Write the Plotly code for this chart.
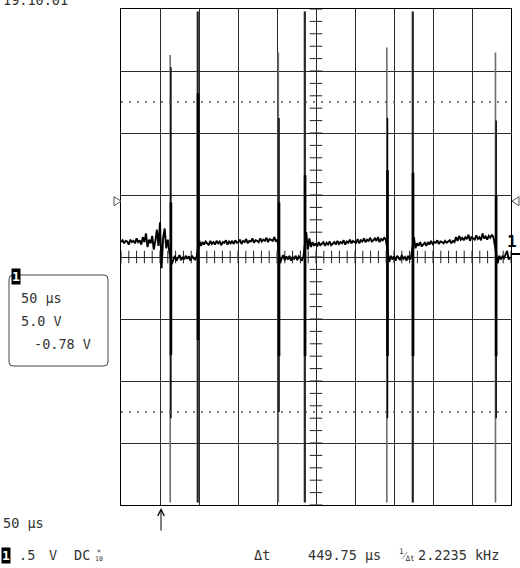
import numpy as np
import plotly.graph_objects as go

# ---------------- data ----------------
STEP_US = 2.0  # sample spacing of the hand-read baseline points (µs)

seg_starts = [0.0, 65.0, 100.5, 204.0, 237.5, 344.0, 375.5, 483.0]
seg1 = [1.2, 1.35, 1.1, 1.3, 1.25, 1.0, 1.4, 1.2, 1.3, 1.1, 1.5, 1.2, 1.35, 1.0, 1.6, 1.2,
        1.9, 0.8, 1.4, 1.1, 1.7, 0.6, 1.3, 2.2, 0.9, 2.8, -0.9, 1.5, 2.3, 0.7, 1.4, 0.4]
seg2 = [-0.6, -0.2, 0.1, -0.3, -0.05, 0.15, -0.25, 0.0, -0.2, 0.1, -0.15, 0.05, -0.3,
        0.1, -0.1, -0.2, 0.05]
seg3 = [1.3, 0.9, 1.2, 1.0, 1.25, 1.1, 0.95, 1.3, 1.05, 1.2, 1.0, 1.3, 1.1, 1.25, 0.95,
        1.2, 1.15, 1.35, 1.0, 1.25, 1.1, 1.3, 1.05, 1.35, 1.15, 1.2, 1.4, 1.05, 1.3, 1.2,
        1.45, 1.1, 1.3, 1.25, 1.5, 1.15, 1.35, 1.3, 1.2, 1.5, 1.25, 1.4, 1.3, 1.55, 1.2,
        1.45, 1.35, 1.3, 1.6, 1.25, 1.4]
seg4 = [-0.5, -0.1, 0.15, -0.25, 0.05, -0.2, 0.1, -0.3, 0.0, -0.15, 0.1, -0.25, 0.05,
        -0.1, -0.3, 0.05]
seg5 = [2.0, 0.6, 1.5, 0.8, 1.2, 0.9, 1.1, 0.85, 1.2, 0.95, 1.05, 1.2, 0.9, 1.15, 1.0,
        1.25, 0.95, 1.1, 1.2, 1.0, 1.3, 1.05, 1.2, 1.1, 1.35, 1.0, 1.25, 1.15, 1.4, 1.1,
        1.3, 1.2, 1.15, 1.45, 1.1, 1.35, 1.25, 1.5, 1.2, 1.4, 1.3, 1.55, 1.25, 1.35, 1.5,
        1.3, 1.6, 1.2, 1.45, 1.35, 1.55, 1.4]
seg6 = [-0.4, 0.1, -0.2, 0.05, -0.3, 0.1, -0.1, -0.25, 0.15, -0.15, 0.0, -0.3, 0.1,
        -0.2, 0.0]
seg7 = [1.6, 0.7, 1.1, 0.9, 1.2, 0.85, 1.05, 1.15, 0.9, 1.2, 1.0, 1.3, 1.05, 1.2, 1.15,
        1.35, 1.05, 1.25, 1.2, 1.1, 1.3, 1.15, 1.25, 1.35, 1.1, 1.3, 1.2, 1.6, 1.3, 1.7,
        1.4, 1.55, 1.35, 1.6, 1.45, 1.8, 1.3, 1.65, 1.5, 1.4, 1.75, 1.45, 1.6, 1.35, 1.9,
        1.5, 1.65, 1.4, 1.7, 1.55, 1.8, 1.6]
seg8 = [-0.5, 0.1, -0.2, 0.05, -0.1, 0.3, 0.5, -0.2, 0.0]
segments = [seg1, seg2, seg3, seg4, seg5, seg6, seg7, seg8]

# switching spikes (µs, volts)
spike_t  = [64.0, 98.7, 202.6, 236.0, 341.7, 374.4, 481.0]
gray_hi  = [16.3, 19.8, 16.5, 19.8, 16.9, 19.8, 16.5]
gray_lo  = [-19.8, -19.8, -19.8, -19.8, -19.8, -19.8, -19.8]
black_hi = [15.3, 19.8, 11.2, 19.8, 11.2, 19.8, 11.0]
black_lo = [-13.0, -19.8, -12.5, -19.8, -13.0, -19.8, -13.0]
thick_hi = [4.4, 13.2, 4.4, 6.6, 7.0, 6.8, 5.0]
thick_lo = [-7.9, -6.7, -8.0, -8.0, -8.0, -8.0, -8.0]

cursor1_us = 51.3
delta_t_us = 449.75
trigger_level_v = 4.5

time_label = "19.10.01"
box_lines = ["50 µs", "5.0 V", "-0.78 V"]
timebase_label = "50 µs"
ch_label = ".5"
dt_value = "449.75 µs"
freq_value = "2.2235 kHz"

# ---------------- figure ----------------
L, R, T, B = 121, 511, 9, 505
W, H = 520, 568


def pxx(x):
    return (x - L) / (R - L)


def pxy(y):
    return (B - y) / (B - T)


t_all, v_all = [], []
for start, vals in zip(seg_starts, segments):
    t_all.extend(start + STEP_US * np.arange(len(vals)))
    v_all.extend(vals)


def spike_xy(lo, hi, dx=0.0):
    xs, ys = [], []
    for t, a, b in zip(spike_t, lo, hi):
        xs += [t + dx, t + dx, None]
        ys += [a, b, None]
    return xs, ys


fig = go.Figure()

# centre graticule ticks (1/5 division)
xt = np.arange(0, 501, 10)
fig.add_trace(go.Scatter(x=xt, y=np.zeros_like(xt, dtype=float), mode="markers",
                         marker=dict(symbol="line-ns", size=9, line=dict(width=1, color="#222")),
                         hoverinfo="skip", showlegend=False))
yt = np.arange(-20, 20.01, 1)
fig.add_trace(go.Scatter(x=np.full_like(yt, 250.0), y=yt, mode="markers",
                         marker=dict(symbol="line-ew", size=9, line=dict(width=1, color="#222")),
                         hoverinfo="skip", showlegend=False))

gx, gy = spike_xy(gray_lo, gray_hi, dx=-0.9)
fig.add_trace(go.Scatter(x=gx, y=gy, mode="lines", line=dict(color="#6e6e6e", width=1.6),
                         hoverinfo="skip", showlegend=False))
bx, by = spike_xy(black_lo, black_hi)
fig.add_trace(go.Scatter(x=bx, y=by, mode="lines", line=dict(color="#000", width=1.4),
                         hoverinfo="skip", showlegend=False))
tx, ty = spike_xy(thick_lo, thick_hi)
fig.add_trace(go.Scatter(x=tx, y=ty, mode="lines", line=dict(color="#000", width=2.6),
                         hoverinfo="skip", showlegend=False))

fig.add_trace(go.Scatter(x=t_all, y=v_all, mode="lines", line=dict(color="#000", width=1.9),
                         hoverinfo="skip", showlegend=False))

axis_common = dict(showgrid=True, gridcolor="#2a2a2a", gridwidth=1, zeroline=False,
                   showticklabels=False, ticks="", showline=True, linecolor="#000",
                   linewidth=1, mirror=True, fixedrange=True)
fig.update_xaxes(range=[0, 500], dtick=50, **axis_common)
fig.update_yaxes(range=[-20, 20], dtick=5, **axis_common)

shapes = []
for lvl in (12.5, -12.5):
    shapes.append(dict(type="line", xref="x", yref="y", x0=0, x1=500, y0=lvl, y1=lvl,
                       line=dict(color="#555", width=1.5, dash="2px,6px")))

# rounded info box
x0, x1, y0, y1, r = 9, 108, 275, 366, 4
rx, ry = r / (R - L), r / (B - T)
X0, X1, Y0, Y1 = pxx(x0), pxx(x1), pxy(y1), pxy(y0)
path = (f"M{X0+rx},{Y0} L{X1-rx},{Y0} Q{X1},{Y0} {X1},{Y0+ry} L{X1},{Y1-ry} "
        f"Q{X1},{Y1} {X1-rx},{Y1} L{X0+rx},{Y1} Q{X0},{Y1} {X0},{Y1-ry} "
        f"L{X0},{Y0+ry} Q{X0},{Y0} {X0+rx},{Y0} Z")
shapes.append(dict(type="path", xref="paper", yref="paper", path=path,
                   line=dict(color="#444", width=1)))

# trigger level triangles
ty_p = (trigger_level_v + 20) / 40
dy = 4.5 / (B - T)
shapes.append(dict(type="path", xref="paper", yref="paper",
                   path=f"M{pxx(114)},{ty_p+dy} L{pxx(121)},{ty_p} L{pxx(114)},{ty_p-dy} Z",
                   line=dict(color="#555", width=1)))
shapes.append(dict(type="path", xref="paper", yref="paper",
                   path=f"M{pxx(519)},{ty_p+dy} L{pxx(512)},{ty_p} L{pxx(519)},{ty_p-dy} Z",
                   line=dict(color="#555", width=1)))
# channel ground marker on the right
shapes.append(dict(type="line", xref="paper", yref="paper", x0=pxx(511), x1=pxx(521),
                   y0=pxy(254), y1=pxy(254), line=dict(color="#000", width=2)))

FONT = "DejaVu Sans Mono"


def label(text, xp, yp, size=13.5, anchor="left", color="#333", **kw):
    d = dict(text=text, x=pxx(xp), y=pxy(yp), xref="paper", yref="paper",
             xanchor=anchor, yanchor="middle", showarrow=False,
             font=dict(family=FONT, size=size, color=color))
    d.update(kw)
    return d


ann = [
    label(time_label, 1, 0),
    label(box_lines[0], 19, 298),
    label(box_lines[1], 19, 321),
    label(box_lines[2], 32, 344),
    label("<b>1</b>", 16, 276, size=13, anchor="center", color="#fff", bgcolor="#000",
          borderpad=0),
    label(timebase_label, 1, 523),
    label("<b>1</b>", 6, 555, size=13, anchor="center", color="#fff", bgcolor="#000",
          borderpad=0),
    label(ch_label, 17, 555),
    label("V", 47, 555),
    label("DC", 72, 555),
    label("×<br>10", 99, 555, size=6.5, anchor="center"),
    label("Δt", 252, 555),
    label(dt_value, 306, 555),
    label("<sup>1</sup>⁄<sub>Δt</sub>", 397, 555, size=11),
    label(freq_value, 416, 555),
    label("<b>1</b>", 519, 241, size=16, anchor="right", color="#000"),
    # cursor arrows
    dict(x=cursor1_us, y=pxy(508), xref="x", yref="paper", ax=0, ay=24, showarrow=True,
         arrowhead=5, arrowsize=1.3, arrowwidth=1, arrowcolor="#000", text=""),
    dict(x=cursor1_us + delta_t_us, y=pxy(259), xref="x", yref="paper", ax=0, ay=20,
         showarrow=True, arrowhead=5, arrowsize=1.3, arrowwidth=1, arrowcolor="#000",
         text=""),
]

fig.update_layout(width=W, height=H, margin=dict(l=L, r=W - R, t=T, b=H - B, pad=0),
                  plot_bgcolor="#fff", paper_bgcolor="#fff", showlegend=False,
                  shapes=shapes, annotations=ann)

fig.write_html("out.html")
